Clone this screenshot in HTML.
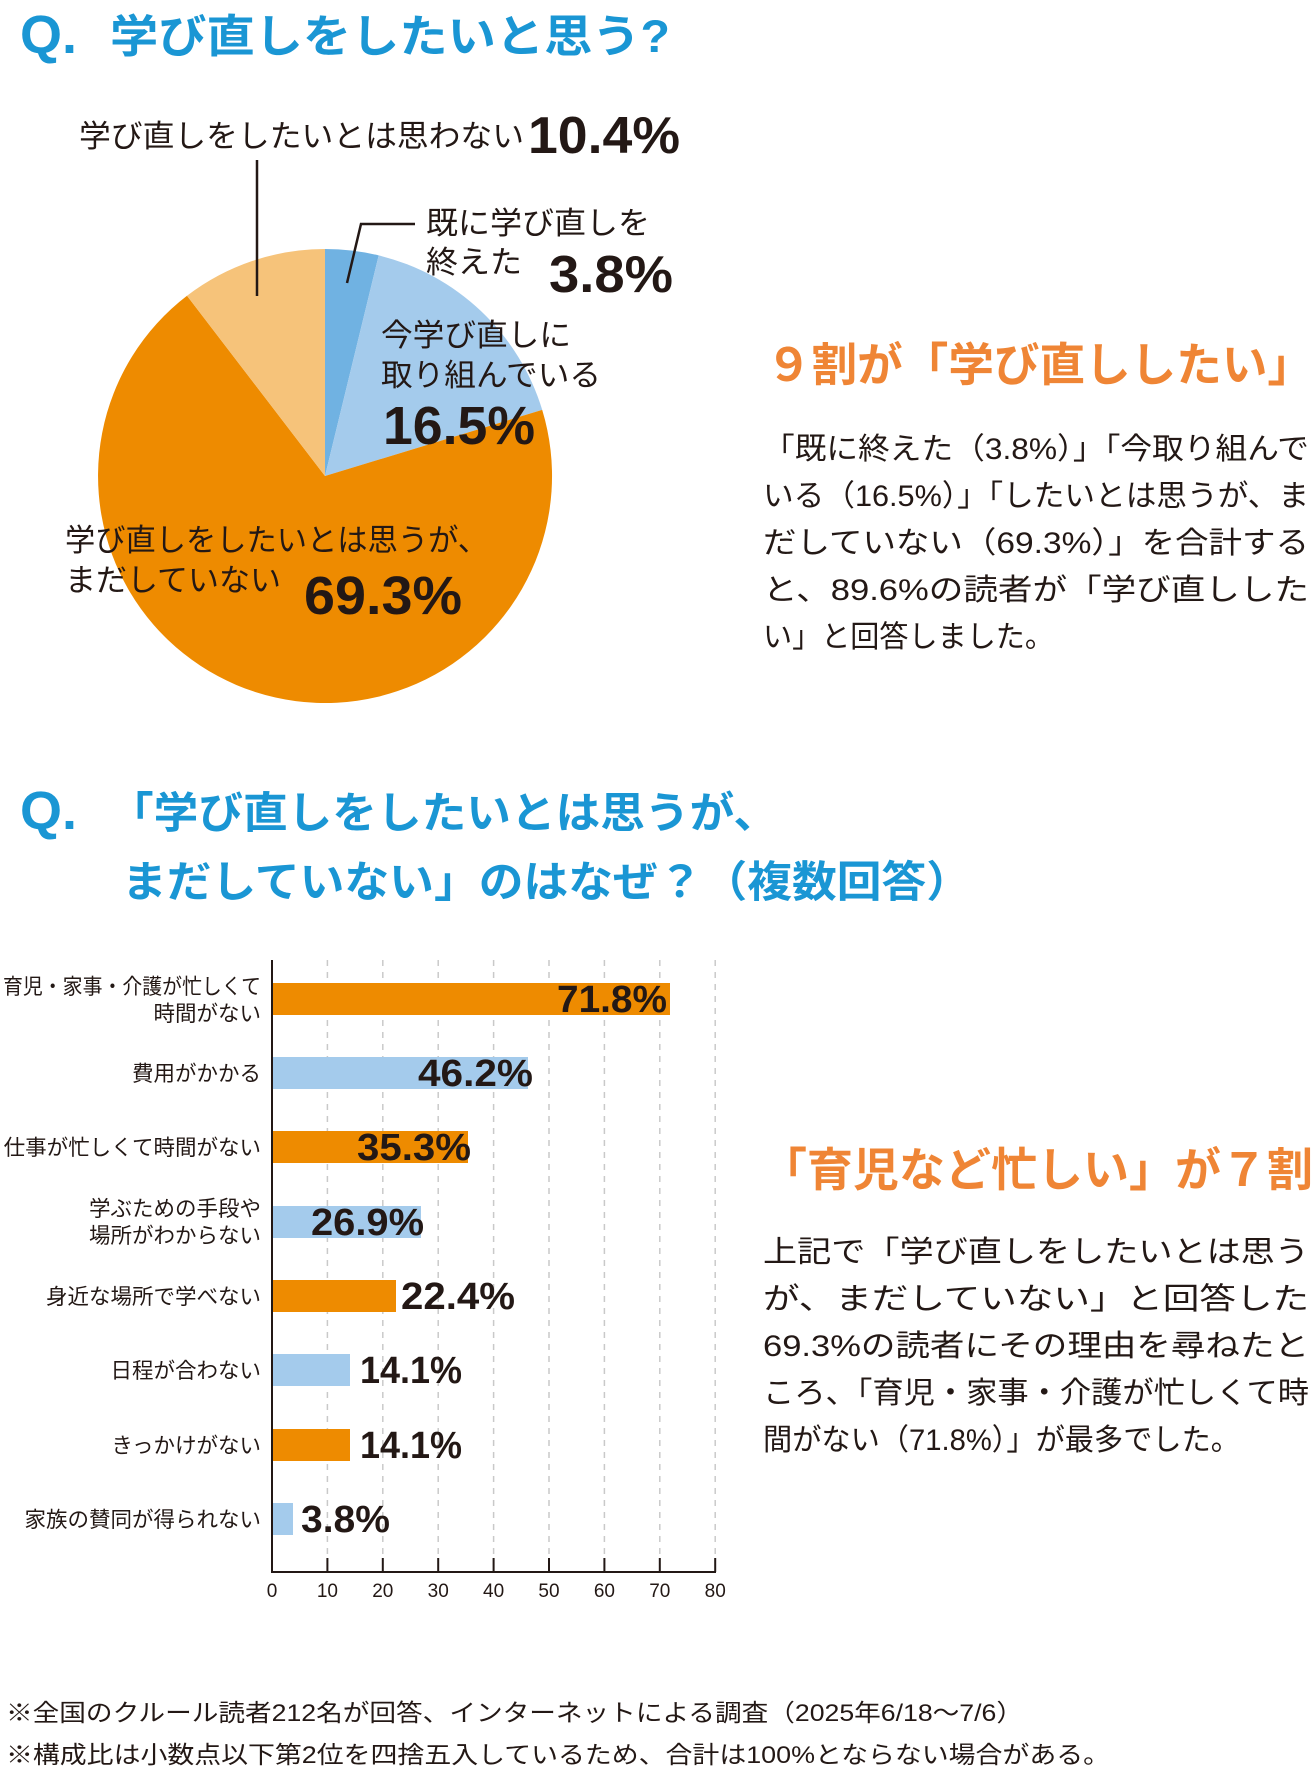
<!DOCTYPE html>
<html><head><meta charset="utf-8"><style>
html,body{margin:0;padding:0;background:#fff;}
svg{display:block;}
.j{font-family:"Liberation Sans","Noto Sans CJK JP",sans-serif;}
.b{font-family:"Liberation Sans","Noto Sans CJK JP",sans-serif;font-weight:bold;}
</style></head><body>
<svg width="1313" height="1767" viewBox="0 0 1313 1767" xmlns="http://www.w3.org/2000/svg">
<text class="b" x="20" y="53" font-size="54" fill="#1a96d4" font-weight="900">Q.</text>
<text class="b" x="110" y="52" font-size="45" fill="#1a96d4" font-weight="900" textLength="560" lengthAdjust="spacingAndGlyphs">学び直しをしたいと思う?</text>

<path d="M325,476 L325,249 A227,227 0 0 1 378.7,255.4 Z" fill="#70b2e2"/>
<path d="M325,476 L378.7,255.4 A227,227 0 0 1 542.2,409.9 Z" fill="#a4cbec"/>
<path d="M325,476 L542.2,409.9 A227,227 0 1 1 187.0,295.8 Z" fill="#ee8b00"/>
<path d="M325,476 L187.0,295.8 A227,227 0 0 1 325,249 Z" fill="#f6c37a"/>

<text class="j" x="79" y="147" font-size="31" fill="#231815" textLength="445" lengthAdjust="spacingAndGlyphs">学び直しをしたいとは思わない</text>
<text class="b" x="528" y="153" font-size="52" fill="#231815" textLength="152" lengthAdjust="spacingAndGlyphs">10.4%</text>
<line x1="257" y1="160" x2="257" y2="296" stroke="#231815" stroke-width="2.5"/>

<polyline points="415,224 361,224 347,283" fill="none" stroke="#231815" stroke-width="2.5"/>
<text class="j" x="426" y="234" font-size="31" fill="#231815" textLength="224" lengthAdjust="spacingAndGlyphs">既に学び直しを</text>
<text class="j" x="426" y="273" font-size="31" fill="#231815" textLength="96" lengthAdjust="spacingAndGlyphs">終えた</text>
<text class="b" x="549" y="292" font-size="52" fill="#231815" textLength="124" lengthAdjust="spacingAndGlyphs">3.8%</text>

<text class="j" x="381" y="346" font-size="31" fill="#231815" textLength="190" lengthAdjust="spacingAndGlyphs">今学び直しに</text>
<text class="j" x="381" y="386" font-size="31" fill="#231815" textLength="220" lengthAdjust="spacingAndGlyphs">取り組んでいる</text>
<text class="b" x="383" y="444" font-size="54" fill="#231815" textLength="152" lengthAdjust="spacingAndGlyphs">16.5%</text>

<text class="j" x="65" y="551" font-size="31" fill="#231815" textLength="423" lengthAdjust="spacingAndGlyphs">学び直しをしたいとは思うが、</text>
<text class="j" x="65" y="591" font-size="31" fill="#231815" textLength="216" lengthAdjust="spacingAndGlyphs">まだしていない</text>
<text class="b" x="304" y="614" font-size="54" fill="#231815" textLength="158" lengthAdjust="spacingAndGlyphs">69.3%</text>

<text class="b" x="766" y="381" font-size="46" fill="#ef8535" textLength="547" lengthAdjust="spacingAndGlyphs">９割が「学び直ししたい」</text>
<g class="j" font-size="30" fill="#231815">
<text x="763" y="459" textLength="546" lengthAdjust="spacingAndGlyphs">「既に終えた（3.8%）」「今取り組んで</text>
<text x="763" y="506" textLength="546" lengthAdjust="spacingAndGlyphs">いる（16.5%）」「したいとは思うが、ま</text>
<text x="763" y="553" textLength="546" lengthAdjust="spacingAndGlyphs">だしていない（69.3%）」を合計する</text>
<text x="763" y="600" textLength="546" lengthAdjust="spacingAndGlyphs">と、89.6%の読者が「学び直しした</text>
<text x="763" y="647" textLength="291" lengthAdjust="spacingAndGlyphs">い」と回答しました。</text>
</g>

<text class="b" x="20" y="829" font-size="54" fill="#1a96d4" font-weight="900">Q.</text>
<text class="b" x="109" y="828" font-size="43" fill="#1a96d4" font-weight="900" textLength="669" lengthAdjust="spacingAndGlyphs">「学び直しをしたいとは思うが、</text>
<text class="b" x="122" y="897" font-size="43" fill="#1a96d4" font-weight="900" textLength="849" lengthAdjust="spacingAndGlyphs">まだしていない」のはなぜ？（複数回答）</text>

<g stroke="#c9c9c9" stroke-width="1.5" stroke-dasharray="6,6">
<line x1="327.4" y1="960" x2="327.4" y2="1572"/>
<line x1="382.8" y1="960" x2="382.8" y2="1572"/>
<line x1="438.2" y1="960" x2="438.2" y2="1572"/>
<line x1="493.6" y1="960" x2="493.6" y2="1572"/>
<line x1="549" y1="960" x2="549" y2="1572"/>
<line x1="604.4" y1="960" x2="604.4" y2="1572"/>
<line x1="659.8" y1="960" x2="659.8" y2="1572"/>
<line x1="715.2" y1="960" x2="715.2" y2="1572"/>
</g>
<rect x="272" y="983" width="398" height="32" fill="#ee8b00"/>
<rect x="272" y="1057" width="256" height="32" fill="#a4cbec"/>
<rect x="272" y="1131" width="196" height="32" fill="#ee8b00"/>
<rect x="272" y="1206" width="149" height="32" fill="#a4cbec"/>
<rect x="272" y="1280" width="124" height="32" fill="#ee8b00"/>
<rect x="272" y="1354" width="78" height="32" fill="#a4cbec"/>
<rect x="272" y="1429" width="78" height="32" fill="#ee8b00"/>
<rect x="272" y="1503" width="21" height="32" fill="#a4cbec"/>
<line x1="272" y1="960" x2="272" y2="1573" stroke="#231815" stroke-width="2"/>
<line x1="271" y1="1572" x2="716" y2="1572" stroke="#231815" stroke-width="2"/>
<g stroke="#231815" stroke-width="2">
<line x1="327.4" y1="1558" x2="327.4" y2="1572"/><line x1="382.8" y1="1558" x2="382.8" y2="1572"/>
<line x1="438.2" y1="1558" x2="438.2" y2="1572"/><line x1="493.6" y1="1558" x2="493.6" y2="1572"/>
<line x1="549" y1="1558" x2="549" y2="1572"/><line x1="604.4" y1="1558" x2="604.4" y2="1572"/>
<line x1="659.8" y1="1558" x2="659.8" y2="1572"/><line x1="715.2" y1="1558" x2="715.2" y2="1572"/>
</g>
<g class="j" font-size="19" fill="#231815" text-anchor="middle">
<text x="272" y="1597">0</text><text x="327.4" y="1597">10</text><text x="382.8" y="1597">20</text>
<text x="438.2" y="1597">30</text><text x="493.6" y="1597">40</text><text x="549" y="1597">50</text>
<text x="604.4" y="1597">60</text><text x="659.8" y="1597">70</text><text x="715.2" y="1597">80</text>
</g>
<g class="j" font-size="21.5" fill="#231815" text-anchor="end">
<text x="261" y="994" textLength="258" lengthAdjust="spacingAndGlyphs">育児・家事・介護が忙しくて</text>
<text x="261" y="1021">時間がない</text>
<text x="261" y="1081">費用がかかる</text>
<text x="261" y="1155">仕事が忙しくて時間がない</text>
<text x="261" y="1216">学ぶための手段や</text>
<text x="261" y="1243">場所がわからない</text>
<text x="261" y="1304">身近な場所で学べない</text>
<text x="261" y="1378">日程が合わない</text>
<text x="261" y="1453">きっかけがない</text>
<text x="261" y="1527">家族の賛同が得られない</text>
</g>
<g class="b" font-size="38" fill="#231815">
<text x="557" y="1012" textLength="110" lengthAdjust="spacingAndGlyphs">71.8%</text>
<text x="418" y="1086" textLength="115" lengthAdjust="spacingAndGlyphs">46.2%</text>
<text x="357" y="1160" textLength="114" lengthAdjust="spacingAndGlyphs">35.3%</text>
<text x="311" y="1235" textLength="113" lengthAdjust="spacingAndGlyphs">26.9%</text>
<text x="401" y="1309" textLength="114" lengthAdjust="spacingAndGlyphs">22.4%</text>
<text x="360" y="1383" textLength="102" lengthAdjust="spacingAndGlyphs">14.1%</text>
<text x="360" y="1458" textLength="102" lengthAdjust="spacingAndGlyphs">14.1%</text>
<text x="301" y="1532" textLength="89" lengthAdjust="spacingAndGlyphs">3.8%</text>
</g>

<text class="b" x="761" y="1186" font-size="46" fill="#ef8535" textLength="552" lengthAdjust="spacingAndGlyphs">「育児など忙しい」が７割</text>
<g class="j" font-size="30" fill="#231815">
<text x="763" y="1262" textLength="546" lengthAdjust="spacingAndGlyphs">上記で「学び直しをしたいとは思う</text>
<text x="763" y="1309" textLength="546" lengthAdjust="spacingAndGlyphs">が、まだしていない」と回答した</text>
<text x="763" y="1356" textLength="546" lengthAdjust="spacingAndGlyphs">69.3%の読者にその理由を尋ねたと</text>
<text x="763" y="1403" textLength="546" lengthAdjust="spacingAndGlyphs">ころ、「育児・家事・介護が忙しくて時</text>
<text x="763" y="1450" textLength="477" lengthAdjust="spacingAndGlyphs">間がない（71.8%）」が最多でした。</text>
</g>

<g class="j" font-size="24" fill="#231815">
<text x="6" y="1721" textLength="1017" lengthAdjust="spacingAndGlyphs">※全国のクルール読者212名が回答、インターネットによる調査（2025年6/18～7/6）</text>
<text x="6" y="1763" textLength="1104" lengthAdjust="spacingAndGlyphs">※構成比は小数点以下第2位を四捨五入しているため、合計は100%とならない場合がある。</text>
</g>
</svg>
</body></html>
